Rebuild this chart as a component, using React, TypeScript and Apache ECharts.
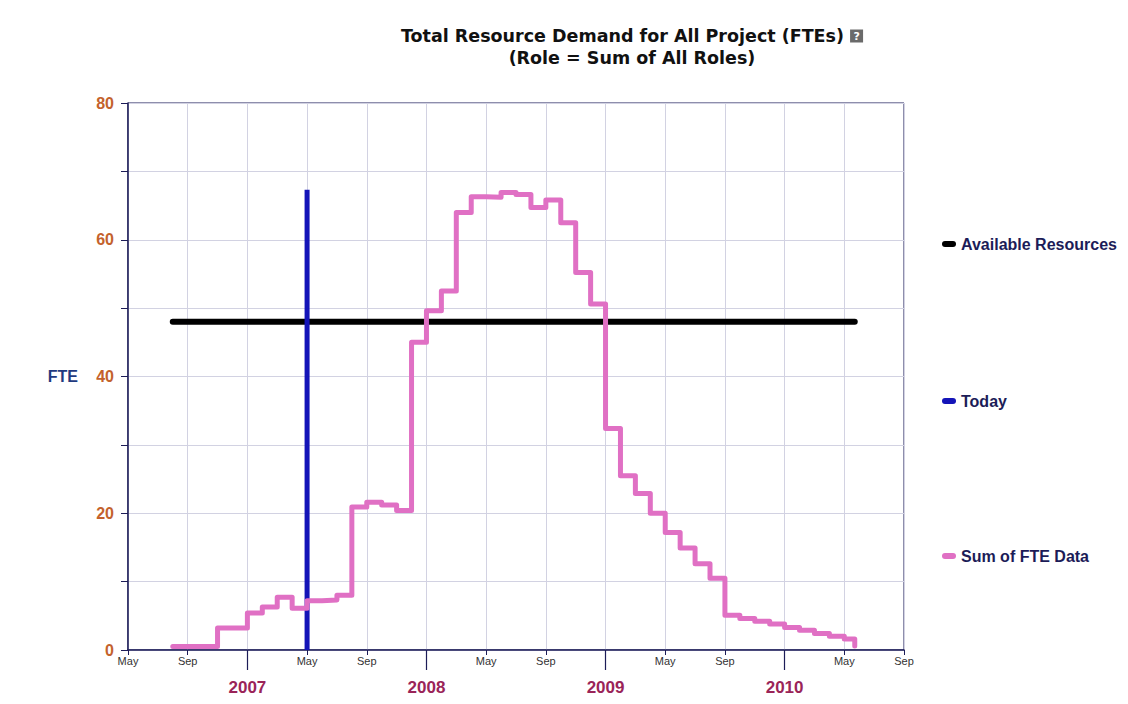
import React, { useEffect, useRef } from "react";
import * as echarts from "echarts";

// Month keys (YYYY-MM) at which each step of the FTE demand begins
const fteMonths = [
  "2006-08", "2006-09", "2006-10", "2006-11", "2006-12",
  "2007-01", "2007-02", "2007-03", "2007-04", "2007-05", "2007-06", "2007-07",
  "2007-08", "2007-09", "2007-10", "2007-11", "2007-12",
  "2008-01", "2008-02", "2008-03", "2008-04", "2008-05", "2008-06", "2008-07",
  "2008-08", "2008-09", "2008-10", "2008-11", "2008-12",
  "2009-01", "2009-02", "2009-03", "2009-04", "2009-05", "2009-06", "2009-07",
  "2009-08", "2009-09", "2009-10", "2009-11", "2009-12",
  "2010-01", "2010-02", "2010-03", "2010-04", "2010-05", "2010-05.7",
];
const fteValues = [
  0.5, 0.5, 0.5, 3.2, 3.2,
  5.4, 6.3, 7.7, 6.1, 7.2, 7.3, 8.0,
  20.9, 21.6, 21.2, 20.4, 45.0,
  49.6, 52.5, 64.0, 66.3, 66.2, 66.9, 66.6,
  64.7, 65.8, 62.5, 55.2, 50.6,
  32.4, 25.5, 22.9, 20.0, 17.2, 14.9, 12.6,
  10.5, 5.1, 4.6, 4.2, 3.8,
  3.3, 2.9, 2.4, 2.0, 1.6, 0.6,
];

const availableMonths = ["2006-08", "2010-05.7"];
const availableValues = [48, 48];

const todayMonths = ["2007-05", "2007-05"];
const todayValues = [0, 67.3];

const monthNames = ["Jan", "Feb", "Mar", "Apr", "May", "Jun", "Jul", "Aug", "Sep", "Oct", "Nov", "Dec"];
const xMinKey = "2006-05";
const xMaxKey = "2010-09";
const yearTicks = ["2007-01", "2008-01", "2009-01", "2010-01"];

// months since Jan 2006
function mIdx(key: string): number {
  const [y, m] = key.split("-");
  return (parseInt(y, 10) - 2006) * 12 + (parseFloat(m) - 1);
}

const pairs = (ks: string[], vs: number[]) => ks.map((k, i) => [mIdx(k), vs[i]]);

const NAVY = "#1c1c58";
const capsule = "path://M3,0 L11,0 A3,3 0 0 1 11,6 L3,6 A3,3 0 0 1 3,0 Z";
const ARIAL = "Liberation Sans, Arial, sans-serif";

export default function App() {
  const ref = useRef<HTMLDivElement>(null);
  useEffect(() => {
    if (!ref.current) return;
    const chart = echarts.init(ref.current, undefined, { renderer: "svg" });
    const legendText = {
      color: NAVY,
      fontWeight: "bold" as const,
      fontSize: 16,
      fontFamily: ARIAL,
    };
    const mkLegend = (name: string, top: number) => ({
      data: [name],
      orient: "vertical" as const,
      left: 937,
      top,
      icon: capsule,
      itemWidth: 14,
      itemHeight: 6,
      textStyle: legendText,
      selectedMode: false,
    });
    const yearVals = yearTicks.map(mIdx);
    chart.setOption({
      animation: false,
      backgroundColor: "#ffffff",
      title: {
        left: 627,
        top: 20,
        textAlign: "center",
        text: "Total Resource Demand for All Project (FTEs) {q|?}\n(Role = Sum of All Roles)",
        textStyle: {
          fontFamily: "DejaVu Sans, Verdana, sans-serif",
          fontWeight: "bold",
          fontSize: 17.5,
          color: "#111111",
          lineHeight: 22,
          rich: {
            q: {
              backgroundColor: "#6a6a6a",
              color: "#ffffff",
              fontSize: 11,
              fontWeight: "bold",
              width: 13,
              height: 13,
              align: "center",
              lineHeight: 13,
              fontFamily: "DejaVu Sans, sans-serif",
            },
          },
        },
      },
      legend: [
        mkLegend("Available Resources", 231),
        mkLegend("Today", 388),
        mkLegend("Sum of FTE Data", 543),
      ],
      grid: {
        left: 128,
        right: 224,
        top: 103,
        bottom: 54,
        show: true,
        borderColor: NAVY,
        borderWidth: 1,
        backgroundColor: "transparent",
      },
      xAxis: [
        {
          type: "value",
          min: mIdx(xMinKey),
          max: mIdx(xMaxKey),
          interval: 4,
          position: "bottom",
          axisLine: { show: true, lineStyle: { color: NAVY, width: 1.5 } },
          axisTick: { show: true, length: 5, lineStyle: { color: NAVY } },
          splitLine: { show: true, lineStyle: { color: "#d2d2e2", width: 1 } },
          axisLabel: {
            margin: 5,
            color: "#333333",
            fontSize: 11,
            fontFamily: ARIAL,
            showMinLabel: true,
            showMaxLabel: true,
            formatter: (v: number) => {
              const m = ((Math.round(v) % 12) + 12) % 12;
              return m === 0 ? "" : monthNames[m];
            },
          },
        },
        {
          type: "value",
          min: mIdx(xMinKey),
          max: mIdx(xMaxKey),
          interval: 4,
          position: "bottom",
          axisLine: { show: false },
          splitLine: { show: false },
          axisTick: {
            show: true,
            length: 20,
            customValues: yearVals,
            lineStyle: { color: NAVY, width: 1.2 },
          },
          axisLabel: {
            margin: 29,
            customValues: yearVals,
            color: "#9a2458",
            fontSize: 17,
            fontWeight: "bold",
            fontFamily: ARIAL,
            formatter: (v: number) => String(2006 + Math.round(v / 12)),
          },
        },
      ],
      yAxis: {
        type: "value",
        min: 0,
        max: 80,
        interval: 10,
        name: "FTE",
        nameLocation: "middle",
        nameRotate: 0,
        nameGap: 50,
        nameTextStyle: {
          color: "#1f3a80",
          fontWeight: "bold",
          fontSize: 16,
          fontFamily: ARIAL,
        },
        axisLine: { show: true, lineStyle: { color: NAVY, width: 1.5 } },
        axisTick: { show: true, length: 7, lineStyle: { color: NAVY } },
        splitLine: { show: true, lineStyle: { color: "#d2d2e2", width: 1 } },
        axisLabel: {
          margin: 14,
          color: "#c4622c",
          fontSize: 16,
          fontWeight: "bold",
          fontFamily: ARIAL,
          formatter: (v: number) => (v % 20 === 0 ? String(v) : ""),
        },
      },
      series: [
        {
          name: "Available Resources",
          type: "line",
          data: pairs(availableMonths, availableValues),
          symbol: "none",
          color: "#000000",
          lineStyle: { color: "#000000", width: 6, cap: "round" },
        },
        {
          name: "Today",
          type: "line",
          data: pairs(todayMonths, todayValues),
          symbol: "none",
          color: "#1414b8",
          lineStyle: { color: "#1414b8", width: 5 },
        },
        {
          name: "Sum of FTE Data",
          type: "line",
          step: "end",
          data: pairs(fteMonths, fteValues),
          symbol: "none",
          color: "#e070c4",
          lineStyle: { color: "#e070c4", width: 5, join: "round", cap: "round" },
        },
      ],
    });
    return () => chart.dispose();
  }, []);
  return <div ref={ref} style={{ width: 1128, height: 704, margin: -8 }} />;
}
